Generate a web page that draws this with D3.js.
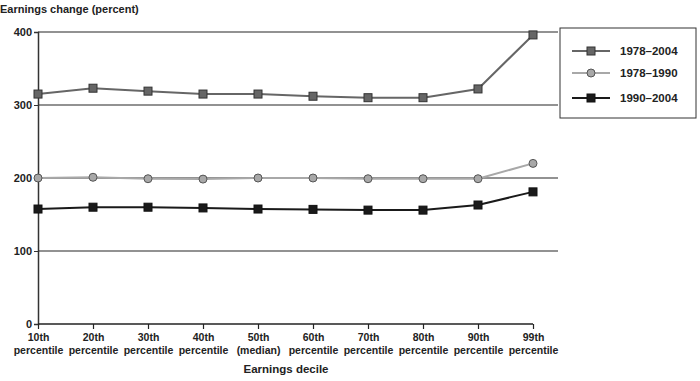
<!DOCTYPE html>
<html><head><meta charset="utf-8">
<script src="https://cdn.jsdelivr.net/npm/d3@7"></script>
<style>body{margin:0;background:#fff}svg{display:block;font-family:"Liberation Sans",Arial,sans-serif}</style>
</head><body><svg id="c" width="700" height="381"></svg>
<script>
const categories = [["10th","percentile"],["20th","percentile"],["30th","percentile"],["40th","percentile"],["50th","(median)"],["60th","percentile"],["70th","percentile"],["80th","percentile"],["90th","percentile"],["99th","percentile"]];
const s7804 = [315,323,319,315,315,312,310,310,322,396];
const s7890 = [200,201,199,198.5,200,200,199,199,199,220];
const s9004 = [157.5,160,160,159,157.5,157,156,156,163,181];
const yTicks = [0,100,200,300,400];
const seriesNames = ["1978\u20132004","1978\u20131990","1990\u20132004"];

const svg = d3.select("#c");
const keys = categories.map((d,i)=>i);
const x = d3.scalePoint().domain(keys).range([38,533]);
const y = d3.scaleLinear().domain([0,400]).range([324,32]);

// gridlines
svg.append("g").selectAll("line").data(yTicks.filter(d=>d>0)).join("line")
  .attr("x1",38).attr("x2",558).attr("y1",d=>y(d)).attr("y2",d=>y(d))
  .attr("stroke","#6e6e6e").attr("stroke-width",1.5);

// y axis
const ya = svg.append("g").attr("transform","translate(38,0)")
  .call(d3.axisLeft(y).tickValues(yTicks).tickSize(4).tickPadding(2));
ya.select(".domain").attr("stroke","#333").attr("stroke-width",1.5);
ya.selectAll(".tick line").attr("stroke","#333");
ya.selectAll("text").attr("font-size",11).attr("font-weight","bold").attr("fill","#222");

// x axis
const xa = svg.append("g").attr("transform","translate(0,324)")
  .call(d3.axisBottom(x).tickSize(5).tickFormat(()=>""));
xa.select(".domain").attr("stroke","#222").attr("stroke-width",1.5).attr("d","M38,0H533");
xa.selectAll(".tick line").attr("stroke","#222").attr("stroke-width",1.2);
xa.selectAll(".tick").each(function(d){
  const t = d3.select(this).select("text").text(null).attr("font-size",10.5).attr("font-weight","bold").attr("fill","#222").attr("y",0).attr("dy",null);
  t.append("tspan").attr("x",0).attr("y",17).text(categories[d][0]);
  t.append("tspan").attr("x",0).attr("y",30).text(categories[d][1]);
});

svg.append("text").attr("x",0).attr("y",13).attr("font-size",11).attr("font-weight","bold").attr("fill","#222").text("Earnings change (percent)");
svg.append("text").attr("x",286).attr("y",373).attr("text-anchor","middle").attr("font-size",11.5).attr("font-weight","bold").attr("fill","#222").text("Earnings decile");

const series = [
  {name:seriesNames[0], vals:s7804, line:"#666", fill:"#666", stroke:"#333", shape:"square"},
  {name:seriesNames[1], vals:s7890, line:"#a8a8a8", fill:"#a8a8a8", stroke:"#555", shape:"circle"},
  {name:seriesNames[2], vals:s9004, line:"#1a1a1a", fill:"#1a1a1a", stroke:"#111", shape:"square"}
];
const line = d3.line().x((d,i)=>x(i)).y(d=>y(d));
function marker(g, s, cx, cy){
  if(s.shape==="square"){
    g.append("rect").attr("x",cx-4).attr("y",cy-4).attr("width",8).attr("height",8)
      .attr("fill",s.fill).attr("stroke",s.stroke).attr("stroke-width",1);
  } else {
    g.append("circle").attr("cx",cx).attr("cy",cy).attr("r",4)
      .attr("fill",s.fill).attr("stroke",s.stroke).attr("stroke-width",1);
  }
}
series.forEach(s=>{
  const g = svg.append("g");
  g.append("path").datum(s.vals).attr("d",line).attr("fill","none").attr("stroke",s.line).attr("stroke-width",2);
  s.vals.forEach((v,i)=>marker(g,s,x(i),y(v)));
});

// legend
const lg = svg.append("g");
lg.append("rect").attr("x",560).attr("y",28).attr("width",136).attr("height",90).attr("fill","#fff").attr("stroke","#333").attr("stroke-width",1);
const ly = [51,73,98];
series.forEach((s,i)=>{
  lg.append("line").attr("x1",572).attr("x2",610).attr("y1",ly[i]).attr("y2",ly[i]).attr("stroke",s.line).attr("stroke-width",2);
  marker(lg,s,591,ly[i]);
  lg.append("text").attr("x",620).attr("y",ly[i]+4).attr("font-size",11.5).attr("font-weight","bold").attr("fill","#222").text(s.name);
});
</script></body></html>
